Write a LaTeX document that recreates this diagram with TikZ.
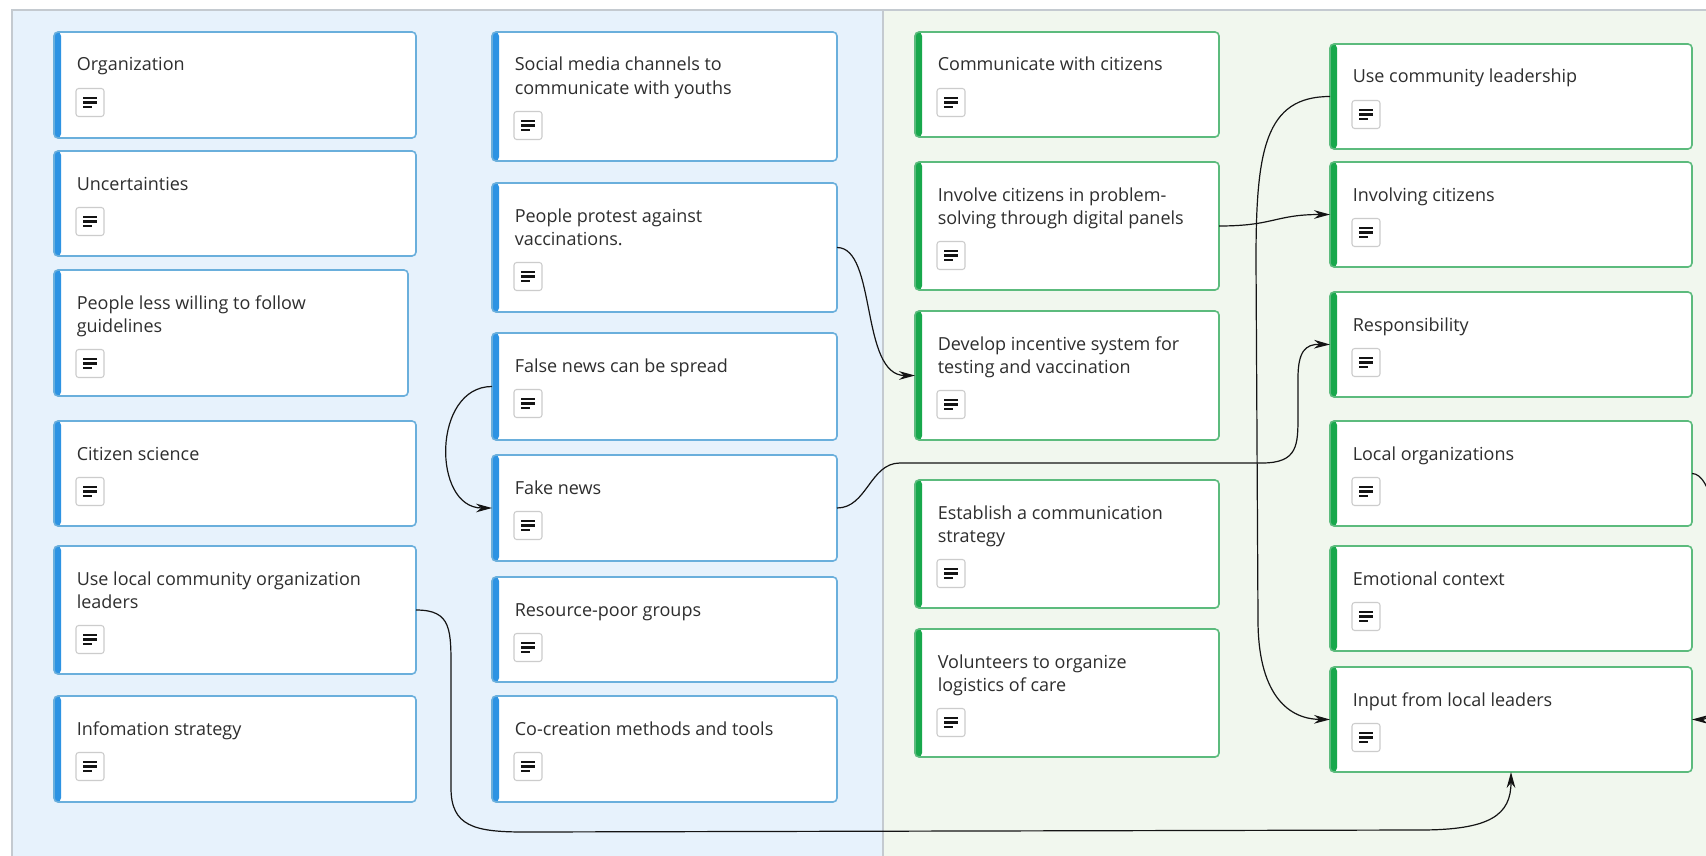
\documentclass[tikz,border=0pt]{standalone}
\usepackage{fontspec}
\setmainfont{Open Sans}
\usetikzlibrary{arrows.meta,fit}

\definecolor{panelblue}{HTML}{E7F2FC}
\definecolor{panelgreen}{HTML}{F1F7EE}
\definecolor{framegray}{HTML}{C4CAD0}
\definecolor{cardblue}{HTML}{6AAFDC}
\definecolor{barblue}{HTML}{2D93E3}
\definecolor{cardgreen}{HTML}{5CBB7D}
\definecolor{bargreen}{HTML}{18A84C}
\definecolor{iconborder}{HTML}{CCCCCC}
\definecolor{ink}{HTML}{141414}
\definecolor{textgray}{HTML}{2E2E2E}

\newcommand\cardfont{\fontsize{13.5pt}{17.25pt}\selectfont}
\newcommand\twolines[2]{\vtop{\hbox{#1}\hbox{#2}}}

\tikzset{
  card/.style={draw, line width=1.2pt, rounded corners=3pt, fill=white,
    inner sep=0pt, outer sep=0pt},
  bluecard/.style={card, draw=cardblue,
    path picture={\fill[barblue] (path picture bounding box.north west)
      rectangle ([xshift=5.25pt]path picture bounding box.south west);}},
  greencard/.style={card, draw=cardgreen,
    path picture={\fill[bargreen] (path picture bounding box.north west)
      rectangle ([xshift=5.25pt]path picture bounding box.south west);}},
  cardtext/.style={anchor=base west, inner sep=0pt, font=\cardfont, text=textgray},
  iconbox/.style={draw=iconborder, fill=white, line width=0.8pt,
    rounded corners=2pt, minimum size=21pt, inner sep=0pt,
    path picture={
      \draw[ink, line width=1.8pt]
        ([xshift=-5pt,yshift=3.4pt]path picture bounding box.center) -- ++(10.3pt,0)
        ([xshift=-5pt]path picture bounding box.center) -- ++(10.3pt,0)
        ([xshift=-5pt,yshift=-3.4pt]path picture bounding box.center) -- ++(6.8pt,0);}},
  conn/.style={draw=ink, line width=0.9pt, -{Stealth[length=12pt,width=6.5pt]}},
}

% card: name, style, x1, y1, x2, y2, number of text lines, text
\newcommand\mkcard[8]{%
  \node[#2, fit={(#3,#4) (#5,#6)}] (#1) {};
  \node[cardtext] (#1t) at (#3+22.5, #4+39) {#8};
  \node[iconbox] (#1i) at (#3+36, #4+70.5+23*#7-23) {};
}

\begin{document}
\begin{tikzpicture}[x=0.75pt, y=-0.75pt]
\useasboundingbox (0,0) rectangle (1706,856);
\clip (0,0) rectangle (1706,856);
\fill[white] (0,0) rectangle (1706,856);

% two swimlanes
\fill[panelblue] (12,10) rectangle (883,856);
\fill[panelgreen] (883,10) rectangle (1706,856);
\draw[framegray, line width=1.2pt] (12,856) -- (12,10) -- (1706,10);
\draw[framegray, line width=1.2pt] (883,10) -- (883,856);

% first column
\mkcard{a1}{bluecard}{54}{32}{416}{138}{1}{Organization}
\mkcard{a2}{bluecard}{54}{151}{416}{256}{1}{Uncertainties}
\mkcard{a3}{bluecard}{54}{270}{408}{396}{2}{\twolines{People less willing to follow}{guidelines}}
\mkcard{a4}{bluecard}{54}{421}{416}{526}{1}{Citizen science}
\mkcard{a5}{bluecard}{54}{546}{416}{674}{2}{\twolines{Use local community organization}{leaders}}
\mkcard{a6}{bluecard}{54}{696}{416}{802}{1}{Infomation strategy}

% second column
\mkcard{b1}{bluecard}{492}{32}{837}{161}{2}{\twolines{Social media channels to}{communicate with youths}}
\mkcard{b2}{bluecard}{492}{183}{837}{312}{2}{\twolines{People protest against}{vaccinations.}}
\mkcard{b3}{bluecard}{492}{333}{837}{440}{1}{False news can be spread}
\mkcard{b4}{bluecard}{492}{455}{837}{561}{1}{Fake news}
\mkcard{b5}{bluecard}{492}{577}{837}{682}{1}{Resource-poor groups}
\mkcard{b6}{bluecard}{492}{696}{837}{802}{1}{Co-creation methods and tools}

% third column
\mkcard{c1}{greencard}{915}{32}{1219}{137}{1}{Communicate with citizens}
\mkcard{c2}{greencard}{915}{162}{1219}{290}{2}{\twolines{Involve citizens in problem-}{solving through digital panels}}
\mkcard{c3}{greencard}{915}{311}{1219}{440}{2}{\twolines{Develop incentive system for}{testing and vaccination}}
\mkcard{c4}{greencard}{915}{480}{1219}{608}{2}{\twolines{Establish a communication}{strategy}}
\mkcard{c5}{greencard}{915}{629}{1219}{757}{2}{\twolines{Volunteers to organize}{logistics of care}}

% fourth column
\mkcard{d1}{greencard}{1330}{44}{1692}{149}{1}{Use community leadership}
\mkcard{d2}{greencard}{1330}{162}{1692}{267}{1}{Involving citizens}
\mkcard{d3}{greencard}{1330}{292}{1692}{397}{1}{Responsibility}
\mkcard{d4}{greencard}{1330}{421}{1692}{526}{1}{Local organizations}
\mkcard{d5}{greencard}{1330}{546}{1692}{651}{1}{Emotional context}
\mkcard{d6}{greencard}{1330}{667}{1692}{772}{1}{Input from local leaders}

% connectors
\draw[conn] (b2.east) .. controls +(40,0) and +(-55,0) .. (c3.west);
\draw[conn] (b3.west) .. controls +(-60,0) and +(-60,0) .. (b4.west);
\draw[conn] (b4.east) .. controls +(30,0) and +(-30,0) .. (900,463)
  -- (1262,463) .. controls (1298,463) and (1298,445) .. (1298,415)
  -- (1298,378) .. controls (1298,352) and (1305,344) .. (d3.west);
\draw[conn] (c2.east) .. controls +(55,0) and +(-55,0) .. (d2.west);
\draw[conn] (d1.west) .. controls +(-65,0) and (1256,150) .. (1256,260)
  -- (1258,620) .. controls (1258,690) and (1285,719) .. (d6.west);
\draw[conn] (a5.east) .. controls +(36,0) and (451,630) .. (451,672)
  -- (451,788) .. controls (451,826) and (474,832) .. (524,832)
  -- (1420,830) .. controls (1490,830) and (1511,815) .. (d6.south);
\draw[conn] (d4.east) .. controls +(40,0) and +(40,0) .. (d6.east);
\end{tikzpicture}
\end{document}
